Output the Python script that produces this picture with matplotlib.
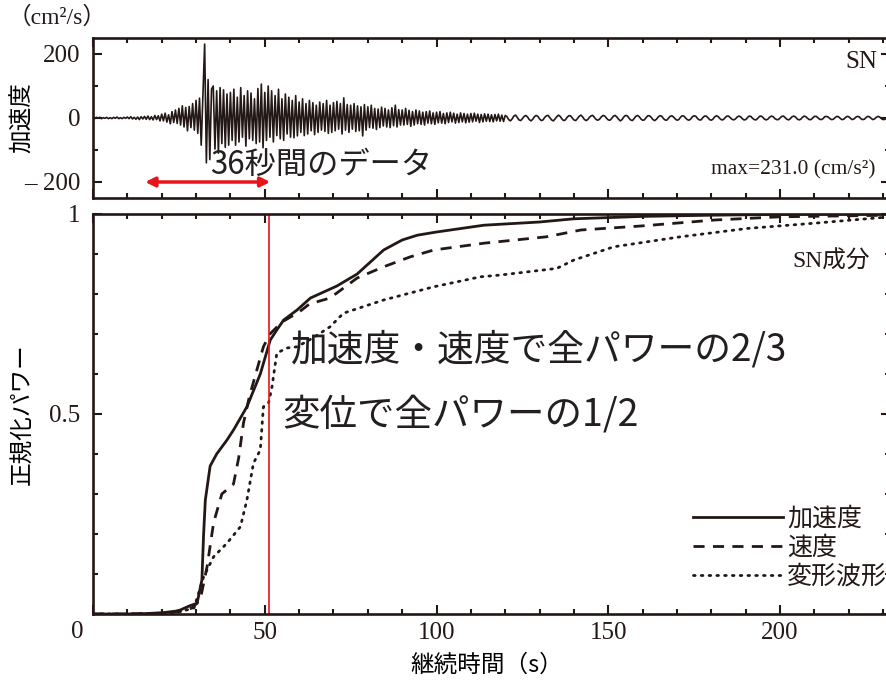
import numpy as np
import matplotlib
matplotlib.use("Agg")
import matplotlib.pyplot as plt
from matplotlib.ticker import MultipleLocator, FixedLocator

# ---------------- data ----------------
# acceleration waveform, SN component (cm/s^2), sampled every 0.5 s (read from picture)
acc_wave = [
    1, -2, 2, -1, 2, -2, 1, -1, 2, -2, 1, -2, 2, -1, 3, -2, 1, -2, 2, -1,
    3, -2, 4, -3, 2, -4, 3, -5, 4, -3, 5, -4, 6, -5, 4, -6, 8, -5, 7, -9,
    12, -9, 15, -13, 10, -18, 20, -14, 25, -17, 30, -22, 38, -28, 33, -40, 36, -30, 45, -38,
    55, -48, 62, -85, 70, 231, -140, 120, -130, 90, 100, -97, 85, -110, 95, -80, 88, -92, 75, -85,
    80, -70, 90, -85, 65, -75, 95, -60, 70, -88, 85, -65, 78, -70, 60, -80, 92, -75, 106, -93,
    80, -70, 100, -60, 85, -75, 70, -55, 90, -65, 60, -70, 75, -50, 65, -60, 55, -62, 70, -56,
    50, -45, 60, -55, 45, -50, 55, -40, 48, -52, 40, -45, 50, -38, 45, -42, 55, -48, 40, -45,
    48, -40, 52, -35, 45, -50, 63, -38, 42, -45, 40, -35, 45, -42, 38, -40, 35, -56, 42, -38,
    35, -30, 40, -32, 30, -36, 28, -30, 34, -25, 30, -28, 25, -30, 32, -24, 40, -28, 26, -22,
    25, -22, 30, -20, 24, -26, 20, -22, 25, -18, 22, -20, 18, -22, 20, -16, 22, -18, 16, -20,
    18, -15, 20, -16, 14, -18, 16, -14, 18, -12, 15, -16, 12, -14, 16, -12, 14, -15, 12, -13,
    14, -12, 15, -10, 12, -14, 11, -12, 13, -10, 12, -11, 10, -12, 11, -9, 12, -10, 9, -11,
    8, 4, -5, -9, -3, 6, 9, 2, -6, -8, -2, 5, 8, 3, -5, -9, -4, 4, 8, 5,
    -3, -8, -6, 2, 7, 8, 1, -6, -9, -3, 4, 9, 5, -3, -8, -6, 2, 7, 7, 0,
    -6, -8, -2, 5, 9, 4, -4, -8, -5, 2, 7, 8, 1, -5, -7, -3, 4, 8, 6, -1,
    -6, -7, -1, 6, 8, 3, -4, -9, -5, 3, 8, 7, 0, -6, -8, -2, 5, 8, 4, -3,
    -7, -6, 1, 7, 7, 2, -5, -8, -4, 3, 7, 6, -1, -6, -7, -1, 5, 7, 3, -3,
    -7, -5, 2, 7, 6, 0, -5, -7, -3, 4, 7, 5, -2, -6, -6, 1, 6, 6, 1, -5,
    -7, -3, 4, 7, 4, -2, -6, -5, 1, 6, 6, 1, -4, -6, -3, 3, 6, 4, -2, -6,
    -5, 1, 6, 5, -1, -5, -6, -1, 5, 6, 2, -4, -6, -3, 3, 6, 4, -2, -5, -5,
    0, 5, 6, 1, -4, -6, -2, 4, 6, 3, -3, -6, -4, 2, 6, 4, -1, -5, -5, 0,
    5, 5, 1, -4, -5, -2, 4, 5, 3, -2, -5, -4, 1, 5, 4, -1, -5, -4, 1, 5,
    4, -1, -5, -3, 2, 5, 4, -2, -5, -4, 1, 5, 4, -1, -5, -3, 2, 5, 3, -2, -5, -4, 1, 4,
]
wave_dt = 0.5

# normalized cumulative power curves
acc_t = [0, 10, 15, 20, 24, 25.4, 28, 30.3, 31.7, 32.2, 32.7, 34.1, 36.0, 39.0, 40.9, 44.8,
         48.7, 51.6, 53.5, 55.5, 59.4, 63.3, 71, 76.9, 84.6, 90, 94.4, 100, 113.8, 130, 140,
         160, 180, 200, 232]
acc_v = [0, 0, 0.001, 0.003, 0.007, 0.01, 0.02, 0.027, 0.085, 0.2, 0.285, 0.37, 0.40, 0.435,
         0.46, 0.518, 0.60, 0.685, 0.71, 0.735, 0.76, 0.79, 0.82, 0.85, 0.91, 0.935, 0.947,
         0.955, 0.972, 0.98, 0.988, 0.994, 0.997, 0.999, 1.0]

vel_t = [0, 10, 20, 25, 28.8, 31.2, 33.2, 35.1, 37.5, 40.9, 42.4, 43.8, 45.5, 49.6, 51.5, 55,
         60, 63, 69, 76.9, 84.6, 92.4, 99.2, 113.8, 132, 142, 159.5, 181, 200, 232]
vel_v = [0, 0, 0.002, 0.006, 0.015, 0.035, 0.118, 0.228, 0.30, 0.325, 0.39, 0.477, 0.543,
         0.668, 0.70, 0.73, 0.755, 0.775, 0.79, 0.84, 0.868, 0.893, 0.91, 0.927, 0.943, 0.96,
         0.97, 0.985, 0.993, 0.997]

disp_t = [0, 10, 20, 25, 29.4, 32.2, 35.1, 39, 42.9, 44.8, 46.7, 48.7, 49.6, 51.1, 52.1, 53.5,
          56.4, 59.4, 64, 69, 72.9, 84.6, 99.2, 112.8, 118.7, 135, 140, 151.6, 171, 190.6, 210, 232]
disp_v = [0, 0, 0.001, 0.005, 0.015, 0.093, 0.143, 0.177, 0.218, 0.285, 0.377, 0.41, 0.518,
          0.527, 0.568, 0.652, 0.665, 0.668, 0.69, 0.718, 0.752, 0.785, 0.818, 0.843, 0.8475,
          0.864, 0.885, 0.918, 0.943, 0.964, 0.977, 0.993]

legend_labels = ["加速度", "速度", "変形波形"]
marked_time = 51.3
window_start, window_end = 15.2, 51.6

# ---------------- style ----------------
INK = "#231815"
RED = "#e8141c"
SERIF = ["Liberation Serif", "Noto Sans CJK JP"]
SANS = ["Noto Sans CJK JP", "DejaVu Sans"]
plt.rcParams["font.family"] = SERIF
plt.rcParams["text.color"] = INK
plt.rcParams["axes.edgecolor"] = INK
plt.rcParams["xtick.color"] = INK
plt.rcParams["ytick.color"] = INK

W, H = 887, 686
fig = plt.figure(figsize=(W / 100, H / 100), dpi=100)

def box(x0, y0, x1, y1):
    return [x0 / W, 1 - y1 / H, (x1 - x0) / W, (y1 - y0) / H]

XMAX = 232.0
ax_top = fig.add_axes(box(93, 38, 890, 198))
ax_bot = fig.add_axes(box(93, 214, 890, 614))

for ax in (ax_top, ax_bot):
    ax.set_xlim(0, XMAX)
    for s in ax.spines.values():
        s.set_linewidth(1.9)
    ax.xaxis.set_major_locator(MultipleLocator(50))
    ax.xaxis.set_minor_locator(MultipleLocator(10))
    ax.tick_params(which="both", direction="in", top=True, right=True, width=1.5,
                   labelsize=18)
    ax.tick_params(which="major", length=6.5)
    ax.tick_params(which="minor", length=3.8)
    ax.tick_params(axis="y", pad=9)

# top panel: waveform
t_wave = np.arange(len(acc_wave)) * wave_dt
ax_top.plot(t_wave, acc_wave, color=INK, lw=1.2)
ax_top.set_ylim(-250, 250)
ax_top.yaxis.set_major_locator(FixedLocator([-200, 0, 200]))
ax_top.yaxis.set_minor_locator(FixedLocator([-100, 100]))
ax_top.set_yticklabels(["– 200", "0", "200"])
ax_top.tick_params(axis="x", labelbottom=False)
ax_top.set_ylabel("加速度", fontsize=17, family=SANS)
ax_top.yaxis.set_label_coords(-0.074, 0.5)
fig.text(8 / W, 1 - 18 / H, "（cm²/s）", fontsize=17, ha="left", va="center")
fig.text(877 / W, 1 - 62 / H, "SN", fontsize=18, ha="right", va="center")
fig.text(876 / W, 1 - 170 / H, "max=231.0 (cm/s²)", fontsize=15.5, ha="right", va="center")
ax_top.annotate("", xy=(window_start, -200), xytext=(window_end, -200),
                arrowprops=dict(arrowstyle="<|-|>", color=RED, lw=2.5,
                                mutation_scale=14, shrinkA=0, shrinkB=0))
ax_top.text(34.1, -147, "36秒間のデータ", family=SANS, fontsize=22.5,
            ha="left", va="center", color="#231f20")

# bottom panel: normalized power
ax_bot.plot(acc_t, acc_v, color=INK, lw=2.0, label=legend_labels[0])
ax_bot.plot(vel_t, vel_v, color=INK, lw=2.0, ls=(0, (4, 3)), label=legend_labels[1])
ax_bot.plot(disp_t, disp_v, color=INK, lw=2.0, ls=(0, (0.6, 2.2)),
            dash_capstyle="round", label=legend_labels[2])
ax_bot.axvline(marked_time, color=RED, lw=1.2)
ax_bot.set_ylim(0, 1)
ax_bot.yaxis.set_major_locator(FixedLocator([0, 0.5, 1]))
ax_bot.yaxis.set_minor_locator(MultipleLocator(0.1))
ax_bot.set_yticklabels(["", "0.5", "1"])
ax_bot.set_xticks([0, 50, 100, 150, 200])
ax_bot.set_xticklabels(["", "50", "100", "150", "200"])
ax_bot.tick_params(axis="x", pad=6)
fig.text(77 / W, 1 - 632 / H, "0", fontsize=18, ha="center", va="center")
ax_bot.set_ylabel("正規化パワー", fontsize=17, family=SANS)
ax_bot.yaxis.set_label_coords(-0.074, 0.5)
ax_bot.set_xlabel("継続時間（s）", fontsize=17, family=SANS)
ax_bot.xaxis.set_label_coords((487 - 93) / 797, -0.1)
fig.text(870 / W, 1 - 262 / H, "SN成分", fontsize=17, ha="right", va="center")
ax_bot.text(57.4, 0.66, "加速度・速度で全パワーの2/3", family=SANS, fontsize=26.5,
            ha="left", va="center", color="#231f20")
ax_bot.text(55.1, 0.4975, "変位で全パワーの1/2", family=SANS, fontsize=27,
            ha="left", va="center", color="#231f20")

leg = ax_bot.legend(loc="lower right", bbox_to_anchor=(1.0, 1 - 590 / H),
                    bbox_transform=fig.transFigure, frameon=False,
                    handlelength=3.6, handletextpad=0.15, labelspacing=0.12,
                    borderpad=0, borderaxespad=0, prop={"family": SANS, "size": 18})
for line in leg.get_lines():
    line.set_linewidth(2.0)

fig.savefig("out.png", dpi=100)
